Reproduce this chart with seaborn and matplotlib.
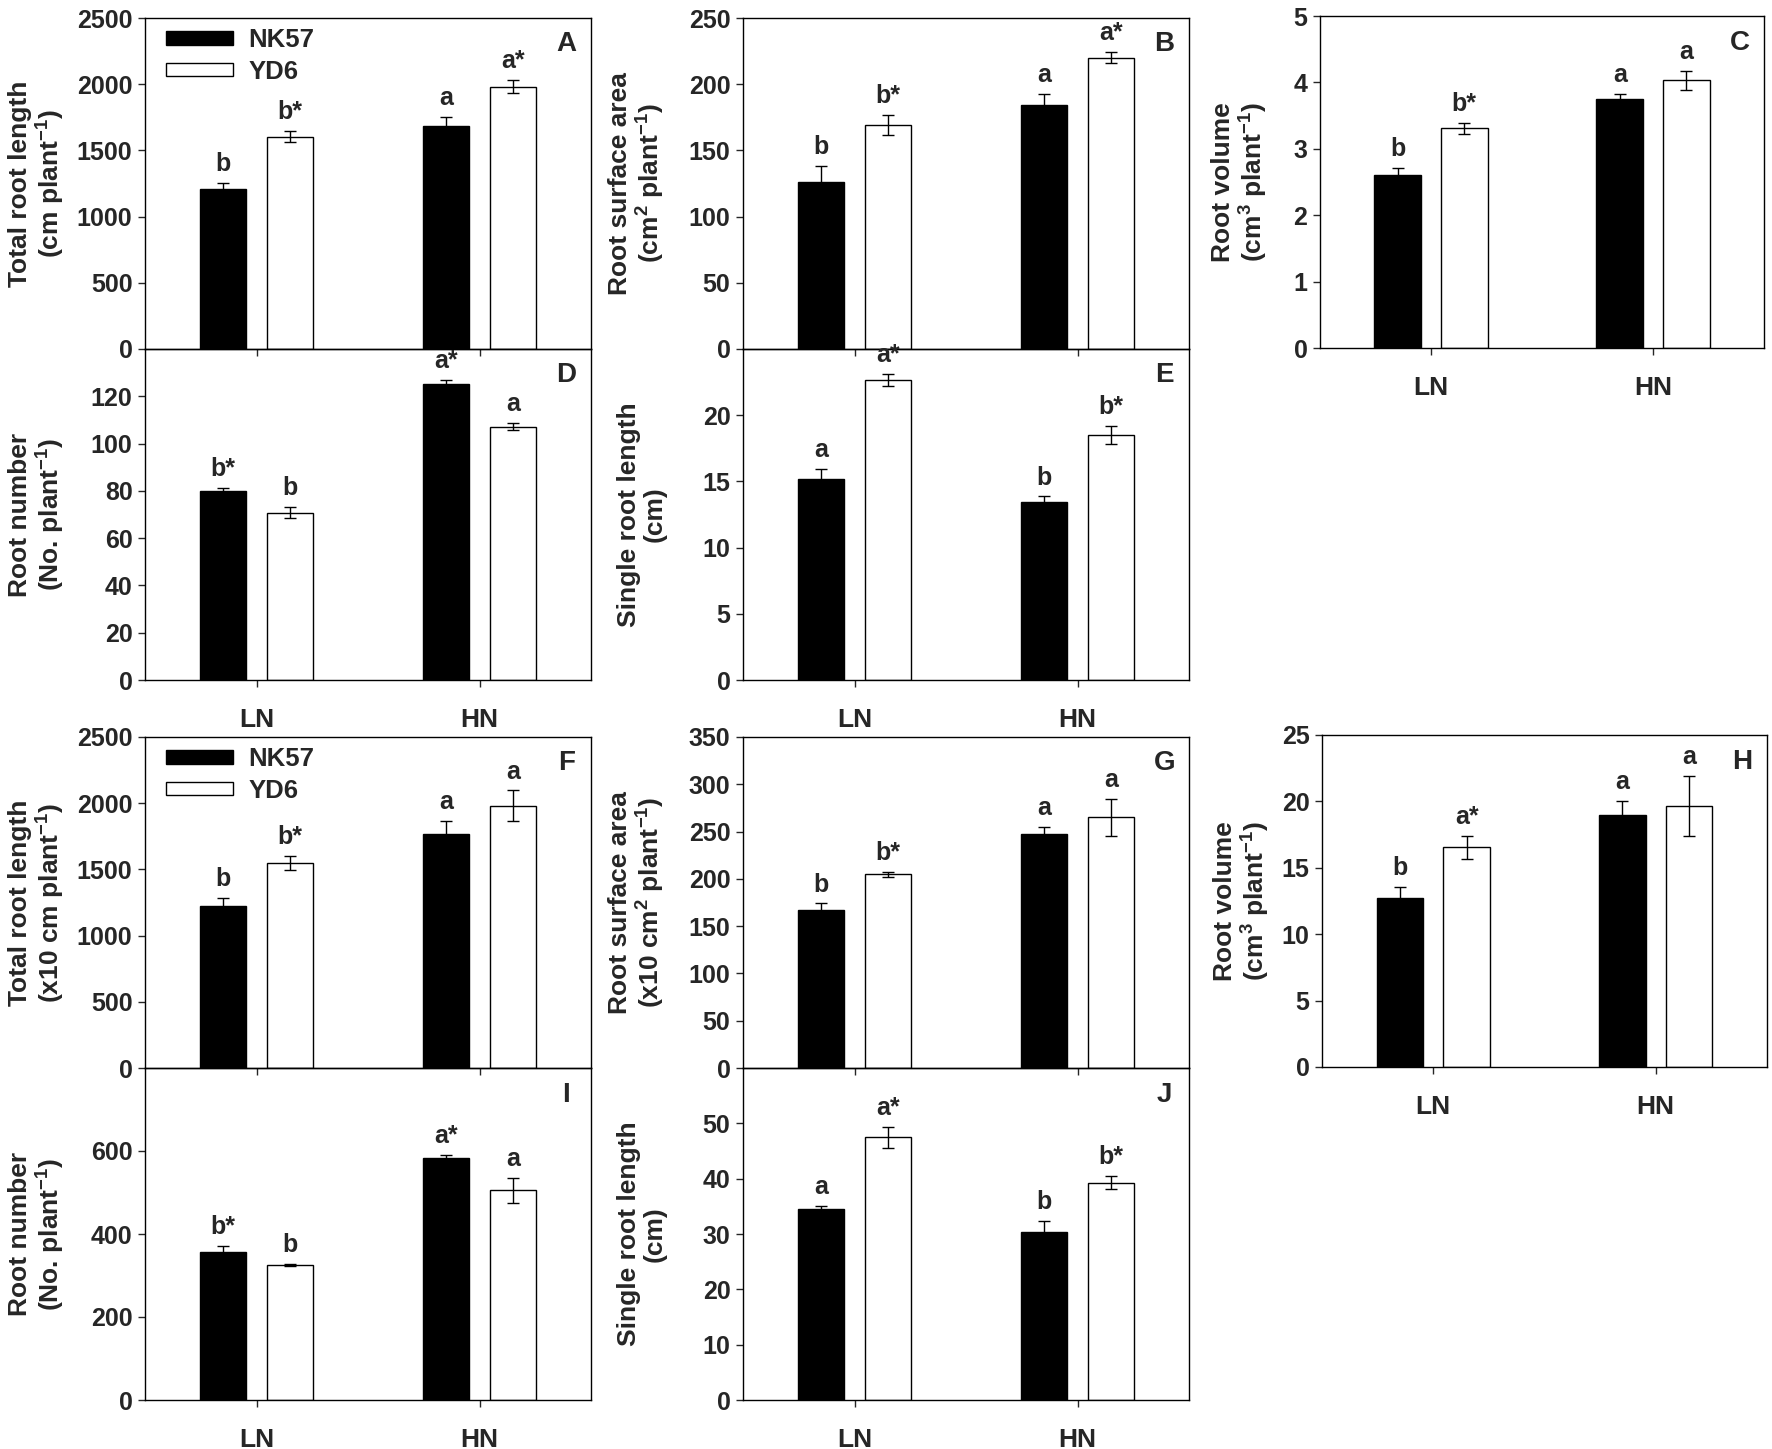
"""
Root traits of two maize cultivars (NK57, YD6) under low (LN) and high (HN)
nitrogen: two experiments, panels A-E and F-J.
"""
import matplotlib
matplotlib.use("Agg")
import matplotlib.pyplot as plt
import pandas as pd
import seaborn as sns
from matplotlib.patches import Patch

conditions = ["LN", "HN"]
cultivars = ["NK57", "YD6"]

# values are [NK57, YD6] x [LN, HN]
# experiment 1
a_mean = [[1207, 1684], [1604, 1982]]
a_se = [[50, 65], [40, 50]]
a_sig = [["b", "a"], ["b*", "a*"]]

b_mean = [[126, 184], [169.5, 220]]
b_se = [[12, 8.5], [7.5, 4.3]]
b_sig = [["b", "a"], ["b*", "a*"]]

c_mean = [[2.61, 3.75], [3.31, 4.03]]
c_se = [[0.10, 0.075], [0.08, 0.14]]
c_sig = [["b", "a"], ["b*", "a"]]

d_mean = [[80.0, 125.2], [70.8, 107.2]]
d_se = [[1.4, 1.7], [2.4, 1.4]]
d_sig = [["b*", "a*"], ["b", "a"]]

e_mean = [[15.2, 13.46], [22.67, 18.49]]
e_se = [[0.75, 0.4], [0.43, 0.68]]
e_sig = [["a", "b"], ["a*", "b*"]]

# experiment 2
f_mean = [[1222, 1770], [1548, 1980]]
f_se = [[60, 96], [55, 116]]
f_sig = [["b", "a"], ["b*", "a"]]

g_mean = [[167, 247.7], [204.7, 265]]
g_se = [[7, 6.7], [3, 19.7]]
g_sig = [["b", "a"], ["b*", "a"]]

h_mean = [[12.74, 18.99], [16.53, 19.65]]
h_se = [[0.8, 1.03], [0.9, 2.26]]
h_sig = [["b", "a"], ["a*", "a"]]

i_mean = [[356, 583], [325, 505]]
i_se = [[15, 7], [3, 31]]
i_sig = [["b*", "a*"], ["b", "a"]]

j_mean = [[34.55, 30.35], [47.48, 39.3]]
j_se = [[0.6, 2.0], [1.86, 1.2]]
j_sig = [["a", "b"], ["a*", "b*"]]

sns.set_style("ticks")
plt.rcParams["font.family"] = ["Liberation Sans", "DejaVu Sans"]
plt.rcParams["font.weight"] = "bold"
plt.rcParams["mathtext.fontset"] = "custom"
plt.rcParams["mathtext.rm"] = "Liberation Sans:bold"
plt.rcParams["mathtext.bf"] = "Liberation Sans:bold"
plt.rcParams["mathtext.it"] = "Liberation Sans:bold:italic"

W, H = 1772, 1449
fig = plt.figure(figsize=(W / 100, H / 100), dpi=100)


def add_ax(x0, x1, y0, y1):
    # pixel box -> figure fraction
    return fig.add_axes([x0 / W, 1 - y1 / H, (x1 - x0) / W, (y1 - y0) / H])


def draw_panel(ax, mean, se, sig, ylim, yticks, ylabel, tag, show_x, label_px):
    rows = [(c, n, mean[i][j]) for i, c in enumerate(cultivars)
            for j, n in enumerate(conditions)]
    df = pd.DataFrame(rows, columns=["cultivar", "condition", "value"])
    sns.barplot(data=df, x="condition", y="value", hue="cultivar",
                order=conditions, hue_order=cultivars,
                palette=["black", "white"], saturation=1,
                edgecolor="black", linewidth=1, width=0.6, gap=0.3,
                errorbar=None, legend=False, ax=ax)

    bar_sets = list(ax.containers)  # one per cultivar
    for i, cont in enumerate(bar_sets):
        for j, bar in enumerate(cont):
            xc = bar.get_x() + bar.get_width() / 2
            ax.errorbar(xc, mean[i][j], yerr=se[i][j], color="black",
                        lw=1, capsize=4, capthick=1, zorder=5)
            ax.annotate(sig[i][j], (xc, mean[i][j] + se[i][j]),
                        xytext=(0, 5), textcoords="offset points",
                        ha="center", va="bottom", fontsize=18,
                        fontweight="bold")

    ax.set_facecolor("none")
    ax.set_xlim(-0.5, 1.5)
    ax.set_ylim(*ylim)
    ax.set_yticks(yticks)
    ax.set_xlabel("")
    ax.set_ylabel(ylabel, fontsize=19, fontweight="bold", linespacing=1.1)
    w_px = ax.get_position().width * W
    ax.yaxis.set_label_coords(-label_px / w_px, 0.5)

    ax.tick_params(axis="both", direction="out", length=5, width=1,
                   labelsize=18, pad=4)
    ax.tick_params(axis="x", labelsize=19, pad=15, labelbottom=show_x)
    for sp in ax.spines.values():
        sp.set_linewidth(1)
        sp.set_color("black")

    ax.text(0.945, 0.92, tag, transform=ax.transAxes, ha="center",
            va="center", fontsize=20, fontweight="bold")


def add_legend(ax):
    handles = [Patch(facecolor="black", edgecolor="black", lw=1),
               Patch(facecolor="white", edgecolor="black", lw=1)]
    ax.legend(handles, cultivars, loc="upper left",
              bbox_to_anchor=(0.047, 0.97), frameon=False,
              borderaxespad=0, borderpad=0, handlelength=2.6,
              handleheight=0.45, handletextpad=0.6, labelspacing=0.3,
              prop={"size": 18.5, "weight": "bold"})


# experiment 1
ax = add_ax(145, 591, 18, 349)
draw_panel(ax, a_mean, a_se, a_sig, (0, 2500), range(0, 2501, 500),
           "Total root length\n(cm plant$^{-1}$)", "A", False, 78)
add_legend(ax)

ax = add_ax(145, 591, 349, 680)
draw_panel(ax, d_mean, d_se, d_sig, (0, 140), range(0, 121, 20),
           "Root number\n(No. plant$^{-1}$)", "D", True, 78)

ax = add_ax(743, 1189, 18, 349)
draw_panel(ax, b_mean, b_se, b_sig, (0, 250), range(0, 251, 50),
           "Root surface area\n(cm$^{2}$ plant$^{-1}$)", "B", False, 76)

ax = add_ax(743, 1189, 349, 680)
draw_panel(ax, e_mean, e_se, e_sig, (0, 25), range(0, 21, 5),
           "Single root length\n(cm)", "E", True, 76)

ax = add_ax(1320, 1764, 16, 348)
draw_panel(ax, c_mean, c_se, c_sig, (0, 5), range(0, 6),
           "Root volume\n(cm$^{3}$ plant$^{-1}$)", "C", True, 50)

# experiment 2
ax = add_ax(145, 591, 737, 1068)
draw_panel(ax, f_mean, f_se, f_sig, (0, 2500), range(0, 2501, 500),
           "Total root length\n(x10 cm plant$^{-1}$)", "F", False, 78)
add_legend(ax)

ax = add_ax(145, 591, 1068, 1400)
draw_panel(ax, i_mean, i_se, i_sig, (0, 800), range(0, 601, 200),
           "Root number\n(No. plant$^{-1}$)", "I", True, 78)

ax = add_ax(743, 1189, 737, 1068)
draw_panel(ax, g_mean, g_se, g_sig, (0, 350), range(0, 351, 50),
           "Root surface area\n(x10 cm$^{2}$ plant$^{-1}$)", "G", False, 76)

ax = add_ax(743, 1189, 1068, 1400)
draw_panel(ax, j_mean, j_se, j_sig, (0, 60), range(0, 51, 10),
           "Single root length\n(cm)", "J", True, 76)

ax = add_ax(1322, 1767, 735, 1067)
draw_panel(ax, h_mean, h_se, h_sig, (0, 25), range(0, 26, 5),
           "Root volume\n(cm$^{3}$ plant$^{-1}$)", "H", True, 50)

fig.savefig("out.png", dpi=100)
